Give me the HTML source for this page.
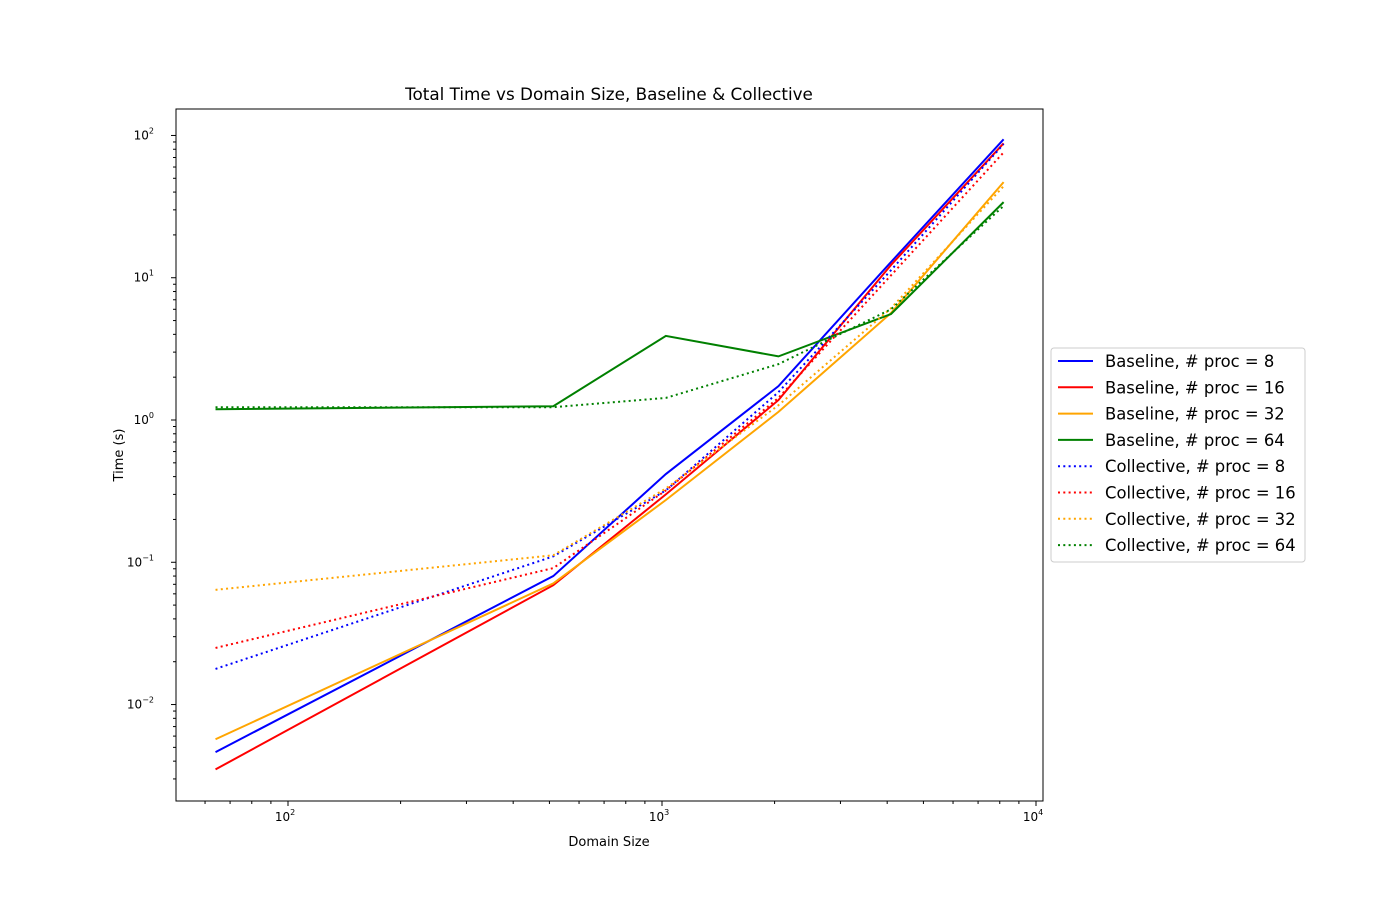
<!DOCTYPE html>
<html><head><meta charset="utf-8"><style>
body{margin:0;background:#fff;}
svg text{font-family:"DejaVu Sans","Liberation Sans",sans-serif;}
</style></head><body>
<svg id="chart" width="1400" height="900" xmlns="http://www.w3.org/2000/svg">
<rect width="1400" height="900" fill="#fff"/>
<text x="609" y="100" font-size="16.8" text-anchor="middle">Total Time vs Domain Size, Baseline &amp; Collective</text>
<g id="plot"></g>
<rect x="176" y="109" width="867" height="692" fill="none" stroke="#000" stroke-width="1"/>
<text x="609" y="846" font-size="13" text-anchor="middle">Domain Size</text>
<text transform="translate(123,455) rotate(-90)" font-size="13" text-anchor="middle">Time (s)</text>
<g id="legend"></g>
</svg>
<script>
const domainSizes=[64,512,1024,2048,4096,8192];
const baseline8=[0.00463,0.080,0.417,1.73,12.9,94];
const baseline16=[0.0035,0.069,0.30,1.38,12.3,88];
const baseline32=[0.0057,0.071,0.274,1.14,5.65,47];
const baseline64=[1.19,1.25,3.9,2.8,5.56,34];
const collective8=[0.0178,0.11,0.32,1.57,11.3,87];
const collective16=[0.025,0.091,0.32,1.43,10.4,76];
const collective32=[0.064,0.112,0.33,1.27,6.1,44];
const collective64=[1.23,1.23,1.43,2.47,6.0,32];
const xTickLabels=["2","3","4"];
const yTickExps=[-2,-1,0,1,2];
const seriesNames=["Baseline, # proc = 8","Baseline, # proc = 16","Baseline, # proc = 32","Baseline, # proc = 64","Collective, # proc = 8","Collective, # proc = 16","Collective, # proc = 32","Collective, # proc = 64"];

const NS="http://www.w3.org/2000/svg";
const L=176,R=1043,T=109,B=801;
const xmin=1.7005,xmax=4.0187,ymin=-2.678,ymax=2.186;
const xs=v=>L+(Math.log10(v)-xmin)/(xmax-xmin)*(R-L);
const ys=v=>B-(Math.log10(v)-ymin)/(ymax-ymin)*(B-T);
const plot=document.getElementById('plot');
function mk(t,a,p){const e=document.createElementNS(NS,t);for(const k in a)e.setAttribute(k,a[k]);(p||plot).appendChild(e);return e;}
for(let d=1;d<=4;d++){for(let m=1;m<10;m++){const v=m*Math.pow(10,d);const lv=Math.log10(v);if(lv<xmin||lv>xmax)continue;const x=xs(v);
const t=mk('line',{x1:x,x2:x,y1:B,y2:B+(m===1?5:3),stroke:'#000','stroke-width':1});


if(m===1){const tx=mk('text',{x:x-3,y:B+20,'font-size':12,'text-anchor':'middle'});tx.textContent='10';


const s=mk('tspan',{dy:-6,'font-size':8},tx);s.textContent=String(d);}}}
for(let d=-3;d<=2;d++){for(let m=1;m<10;m++){const v=m*Math.pow(10,d);const lv=Math.log10(v);if(lv<ymin||lv>ymax)continue;const y=ys(v);
const t=mk('line',{x1:L-(m===1?5:3),x2:L,y1:y,y2:y,stroke:'#000','stroke-width':1});


if(m===1&&yTickExps.includes(d)){const tx=mk('text',{x:L-22,y:y+4,'font-size':12,'text-anchor':'end'});tx.textContent='10';


const s=mk('tspan',{dy:-6,'font-size':8},tx);s.textContent=(d<0?'−':'')+Math.abs(d);}}}
const series=[baseline8,baseline16,baseline32,baseline64,collective8,collective16,collective32,collective64];
const colors=['blue','red','orange','green','blue','red','orange','green'];
series.forEach((s,i)=>{const p=mk('polyline',{points:s.map((v,j)=>xs(domainSizes[j])+','+ys(v)).join(' '),fill:'none',stroke:colors[i],'stroke-width':2,'stroke-dasharray':i>=4?'2,3.3':'none'});

});
const lg=document.getElementById('legend');
const box=mk('rect',{x:1051,y:348,width:254,height:214,rx:3,fill:'#fff',stroke:'#ccc'},lg);


seriesNames.forEach((n,i)=>{const y=361+i*26.3;
const ln=mk('line',{x1:1058,x2:1093,y1:y,y2:y,stroke:colors[i],'stroke-width':2,'stroke-dasharray':i>=4?'2,3.3':'none'},lg);


const t=mk('text',{x:1105,y:y+6,'font-size':16.4},lg);t.textContent=n;

});
</script>
</body></html>
